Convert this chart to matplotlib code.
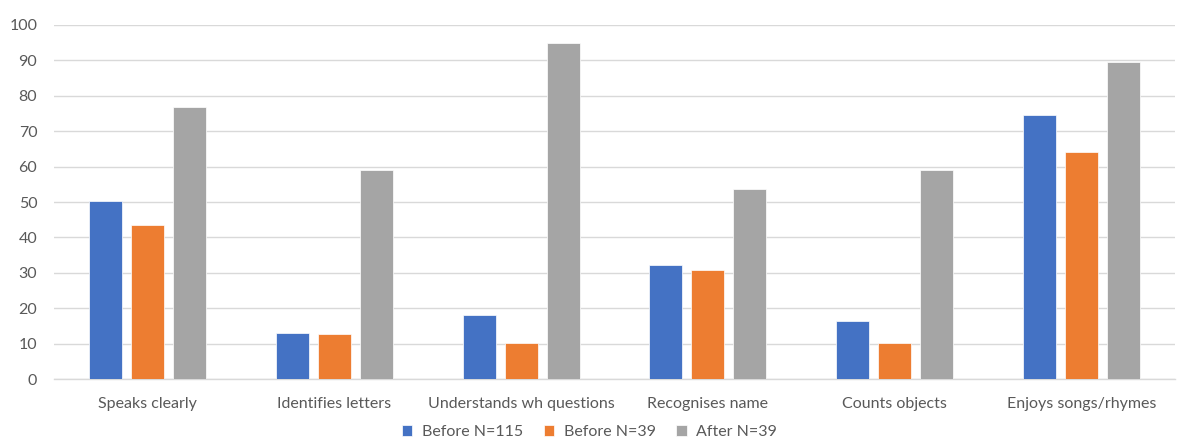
import matplotlib
matplotlib.use("Agg")
import matplotlib.pyplot as plt
import numpy as np

categories = ["Speaks clearly", "Identifies letters", "Understands wh questions",
              "Recognises name", "Counts objects", "Enjoys songs/rhymes"]
series_names = ["Before N=115", "Before N=39", "After N=39"]
before_115 = [50.3, 12.9, 18.2, 32.1, 16.5, 74.6]
before_39 = [43.5, 12.7, 10.3, 30.8, 10.3, 64.1]
after_39 = [76.8, 58.9, 94.8, 53.6, 58.9, 89.6]
colors = ["#4472C4", "#ED7D31", "#A5A5A5"]

plt.rcParams['font.family'] = ['Lato', 'DejaVu Sans']
text_color = "#595959"

fig = plt.figure(figsize=(11.79, 4.4), dpi=100)
ax = fig.add_axes([54/1179, 61/440, (1175-54)/1179, (379-25)/440])

x = np.arange(len(categories))
slot = 0.225
width = 0.177
for i, (vals, name, c) in enumerate(zip([before_115, before_39, after_39], series_names, colors)):
    ax.bar(x + (i - 1) * slot, vals, width, color=c, label=name, zorder=3,
           edgecolor="white", linewidth=0.5)

ax.set_xlim(-0.5, len(categories) - 0.5)
ax.set_ylim(0, 100)
ax.set_yticks(range(0, 101, 10))
ax.yaxis.grid(True, color="#d9d9d9", linewidth=1, zorder=0)
ax.set_axisbelow(True)
for s in ["top", "right", "left"]:
    ax.spines[s].set_visible(False)
ax.spines["bottom"].set_color("#d9d9d9")
ax.spines["bottom"].set_linewidth(1)
ax.tick_params(axis="both", length=0, labelsize=11.5, colors=text_color)
ax.tick_params(axis="y", pad=12)
ax.tick_params(axis="x", pad=13)
ax.set_xticks(x)
ax.set_xticklabels(categories)

fig.legend(loc="center", bbox_to_anchor=(0.5, 8/440), ncol=3, frameon=False,
           fontsize=11.5, handlelength=0.65, handleheight=0.65, columnspacing=1.3,
           handletextpad=0.6, labelcolor=text_color)

fig.savefig("out.png", dpi=100)
